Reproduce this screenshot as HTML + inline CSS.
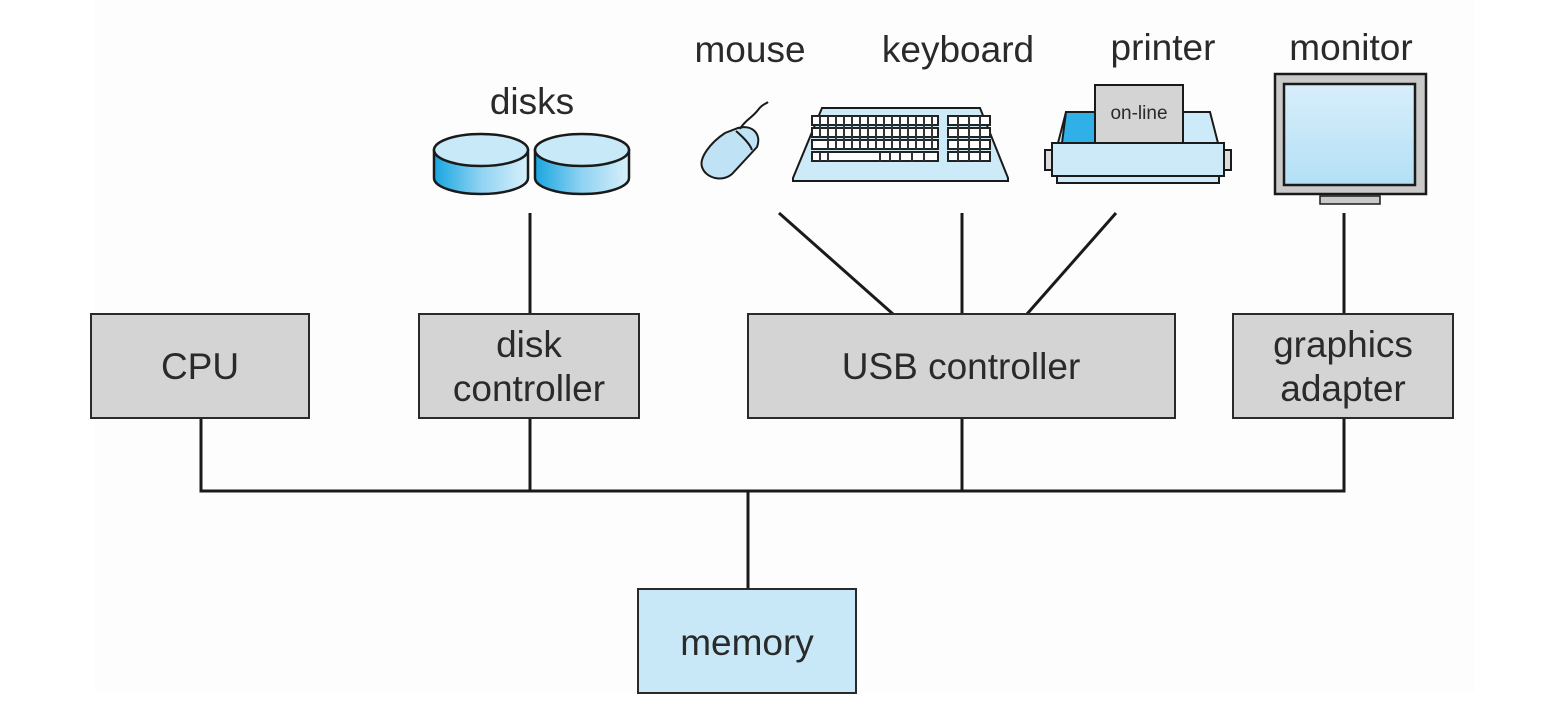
<!DOCTYPE html>
<html><head><meta charset="utf-8"><style>
html,body{margin:0;padding:0;background:#fff;width:1560px;height:720px;overflow:hidden}
text{font-family:"Liberation Sans",sans-serif;fill:#2a2a2a}
</style></head><body>
<svg width="1560" height="720" viewBox="0 0 1560 720" xmlns="http://www.w3.org/2000/svg">
<defs>
<linearGradient id="cyl" x1="0" x2="1" y1="0" y2="0">
<stop offset="0" stop-color="#19a6e0"/><stop offset="0.5" stop-color="#8fd3f2"/><stop offset="1" stop-color="#d8f0fb"/>
</linearGradient>
<linearGradient id="scr" x1="0" x2="0" y1="0" y2="1">
<stop offset="0" stop-color="#d8eefa"/><stop offset="1" stop-color="#b3e0f6"/>
</linearGradient>
</defs>
<rect x="95" y="0" width="1380" height="692" fill="#fdfdfd"/>
<g stroke="#1a1a1a" stroke-width="3" fill="none">
<path d="M201 418V491H1344V418M530 418V491M962 418V491M748 491V589"/>
<path d="M530 213V314M1344 213V314M962 213V314M779 213L893 314M1116 213L1027 314"/>
</g>
<g stroke="#2a2a2a" stroke-width="2">
<rect x="91" y="314" width="218" height="104" fill="#d4d4d4"/>
<rect x="419" y="314" width="220" height="104" fill="#d4d4d4"/>
<rect x="748" y="314" width="427" height="104" fill="#d4d4d4"/>
<rect x="1233" y="314" width="220" height="104" fill="#d4d4d4"/>
<rect x="638" y="589" width="218" height="104" fill="#c8e8f7"/>
</g>
<g font-size="37" text-anchor="middle">
<text x="200" y="379">CPU</text>
<text x="529" y="357">disk</text>
<text x="529" y="401">controller</text>
<text x="961" y="379">USB controller</text>
<text x="1343" y="357">graphics</text>
<text x="1343" y="401">adapter</text>
<text x="747" y="655">memory</text>
<text x="532" y="114">disks</text>
<text x="750" y="62">mouse</text>
<text x="958" y="62">keyboard</text>
<text x="1163" y="60">printer</text>
<text x="1351" y="60">monitor</text>
</g>
<!-- disks -->
<g stroke="#1a1a1a" stroke-width="2.5">
<path d="M434 150V178A47 16 0 0 0 528 178V150Z" fill="url(#cyl)"/>
<ellipse cx="481" cy="150" rx="47" ry="16" fill="#c8eaf8"/>
<path d="M535 150V178A47 16 0 0 0 629 178V150Z" fill="url(#cyl)"/>
<ellipse cx="582" cy="150" rx="47" ry="16" fill="#c8eaf8"/>
</g>
<!-- mouse -->
<g stroke="#1a1a1a" stroke-width="2">
<path d="M738 128C752 124 762 134 757 147L732 174C723 182 706 179 702 167C699 158 710 143 725 133Z" fill="#bfe3f5"/>
<path d="M736 131C744 138 750 144 752 150" fill="none"/>
<path d="M740 129C745 120 752 118 758 110C762 104 766 104 768 102" fill="none"/>
</g>
<!-- keyboard -->
<g stroke="#1a1a1a" stroke-width="2">
<path d="M822 108H980L1008 178V181H793V178Z" fill="#cdeaf8"/>
</g>
<g fill="#fff" stroke="#222" stroke-width="2">
<rect x="812" y="116" width="126" height="9"/>
<rect x="812" y="128" width="126" height="9"/>
<rect x="812" y="140" width="126" height="9"/>
<rect x="812" y="152" width="126" height="9"/>
<rect x="948" y="116" width="42" height="9"/>
<rect x="948" y="128" width="42" height="9"/>
<rect x="948" y="140" width="42" height="9"/>
<rect x="948" y="152" width="42" height="9"/>
</g>
<g stroke="#333" stroke-width="2">
<path d="M820 116V137M828 116V149M836 116V149M844 116V149M852 116V149M860 116V149M868 116V149M876 116V149M884 116V149M892 116V149M900 116V149M908 116V149M916 116V149M924 116V149M932 116V149M958 116V161M969 116V161M980 116V161M820 152V161M828 152V161M880 152V161M890 152V161M900 152V161M912 152V161M924 152V161"/>
</g>
<!-- printer -->
<g stroke="#1a1a1a" stroke-width="2">
<path d="M1066 112H1210L1218 143H1058Z" fill="#cdeaf8"/>
<path d="M1066 112L1062 143H1095V112Z" fill="#2fb0e6"/>
<rect x="1095" y="85" width="88" height="58" fill="#d4d4d4"/>
<rect x="1052" y="143" width="172" height="33" fill="#cdeaf8"/>
<rect x="1057" y="176" width="162" height="7" fill="#cdeaf8"/>
<rect x="1045" y="150" width="7" height="20" fill="#ddd"/>
<rect x="1224" y="150" width="7" height="20" fill="#ddd"/>
</g>
<text x="1139" y="119" font-size="19" text-anchor="middle">on-line</text>
<!-- monitor -->
<g stroke="#1a1a1a" stroke-width="2.5">
<rect x="1275" y="74" width="151" height="120" fill="#c9c9c9"/>
<rect x="1284" y="84" width="131" height="101" fill="url(#scr)"/>
<rect x="1320" y="196" width="60" height="8" fill="#c9c9c9" stroke-width="1.5"/>
</g>
</svg>
</body></html>
